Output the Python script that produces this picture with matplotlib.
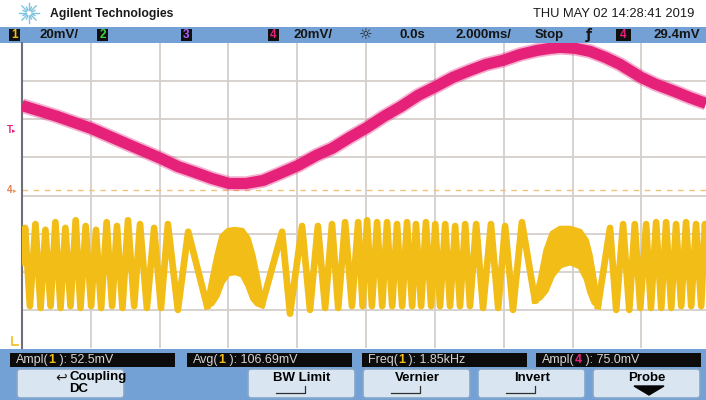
import numpy as np
import matplotlib.pyplot as plt
from matplotlib.patches import Rectangle, FancyBboxPatch, Polygon

plt.rcParams['font.family'] = ['Liberation Sans', 'DejaVu Sans']

### datos (tiempo en ms, tension en mV)
# canal 4 (rosa)
ch4_t = [-10.00, -8.98, -7.99, -6.98, -5.96, -5.47, -4.97, -4.48, -3.98, -3.49, -2.99,
         -2.50, -1.98, -1.45, -0.99, -0.47, 0.03, 0.52, 1.02, 1.51, 2.03, 2.53, 3.02,
         3.49, 3.98, 4.48, 4.97, 5.35, 5.64, 6.08, 6.51, 6.95, 7.38, 7.99, 8.40, 8.98,
         9.42, 9.88]
ch4_mv = [47.2, 41.5, 35.2, 27.3, 19.4, 15.2, 12.1, 8.9, 6.3, 6.3, 7.9,
          11.6, 15.7, 21.0, 24.7, 30.5, 35.7, 41.5, 46.7, 52.5, 57.2, 62.0, 65.6,
          68.8, 70.9, 74.0, 76.1, 77.2, 77.7, 77.2, 75.6, 72.5, 68.8, 62.0, 58.5, 54.5,
          51.3, 48.3]

# canal 1 (amarillo), picos y valles; nan separa los tramos
ch1_t = [-10.00, -9.91, -9.77, -9.61, -9.46, -9.32, -9.17, -9.03, -8.88, -8.74, -8.59,
         -8.44, -8.30, -8.15, -7.99, -7.85, -7.70, -7.54, -7.38, -7.24, -7.08, -6.92,
         -6.74, -6.57, -6.37, -6.16, -5.96, -5.76, -5.47, -5.17, -4.62, np.nan,
         -3.02, -2.44, -2.21, -1.86, -1.63, -1.40, -1.19, -0.99, -0.81, -0.61, -0.41,
         -0.23, -0.10, 0.03, 0.17, 0.32, 0.47, 0.61, 0.76, 0.90, 1.05, 1.19, 1.34,
         1.45, 1.60, 1.74, 1.89, 2.01, 2.15, 2.30, 2.44, 2.59, 2.73, 2.88, 3.02,
         3.20, 3.40, 3.63, 3.84, 4.04, 4.27, 4.53, 4.91, np.nan,
         6.74, 7.09, 7.27, 7.47, 7.65, 7.81, 7.97, 8.14, 8.28, 8.43, 8.58, 8.72,
         8.87, 9.01, 9.16, 9.30, 9.45, 9.59, 9.74, 9.85, 9.95]
ch1_mv = [-35, -17, -58, -15, -59, -18, -58, -14, -59, -17, -58,
          -13, -59, -16, -58, -18, -59, -14, -58, -16, -59, -13,
          -58, -15, -59, -17, -59, -15, -60, -19, -58, np.nan,
          -57, -19, -62, -16, -60, -16, -59, -15, -59, -14, -58,
          -14, -58, -13, -58, -14, -58, -14, -58, -15, -58, -14, -58,
          -15, -58, -14, -58, -15, -58, -15, -58, -16, -58, -15, -58,
          -15, -59, -15, -59, -16, -60, -14, -55, np.nan,
          -58, -17, -60, -15, -60, -15, -59, -15, -59, -14, -59, -14,
          -59, -15, -58, -14, -58, -15, -58, -15, -40]

# zonas anchas (borde superior e inferior)
blob1_t = [-4.62, -4.48, -4.33, -4.19, -4.01, -3.81, -3.60, -3.43, -3.29, -3.17, -3.02]
blob1_top = [-57.8, -44.6, -31.5, -21.5, -18.4, -17.9, -18.4, -22.6, -31.5, -42.0, -56.7]
blob1_bot = [-57.8, -56.7, -52.5, -45.7, -41.0, -40.4, -41.5, -47.3, -54.1, -56.7, -57.8]
blob2_t = [4.91, 5.06, 5.23, 5.41, 5.64, 5.93, 6.22, 6.40, 6.51, 6.63, 6.74]
blob2_top = [-55.1, -44.6, -28.9, -19.9, -17.3, -17.3, -18.9, -23.6, -31.5, -44.6, -57.8]
blob2_bot = [-55.1, -53.6, -49.9, -42.0, -36.8, -35.2, -37.3, -43.6, -50.9, -56.2, -57.8]

trig_level = 3.0  # linea discontinua

# textos
header_left = "Agilent Technologies"
header_right = "THU MAY 02 14:28:41 2019"
meas_pre = ["Ampl(", "Avg(", "Freq(", "Ampl("]
meas_ch = ["1", "1", "1", "4"]
meas_post = [" ): 52.5mV", " ): 106.69mV", " ): 1.85kHz", " ): 75.0mV"]
buttons = ["Coupling\nDC", "BW Limit", "Vernier", "Invert", "Probe"]

YEL = '#f1bd16'
PINK = '#e5217a'
BLUE = '#74a1d5'
LGRAY = '#d2d2d2'

fig = plt.figure(figsize=(7.06, 4.0), dpi=100)
bg = fig.add_axes([0, 0, 1, 1])
bg.set_xlim(0, 706)
bg.set_ylim(400, 0)
bg.axis('off')

### cabecera
ang = np.linspace(0, 2 * np.pi, 16, endpoint=False)
for i, a in enumerate(ang):
    r1, r2 = (3, 10) if i % 2 == 0 else (3, 6.5)
    bg.plot([29 + r1 * np.cos(a), 29 + r2 * np.cos(a)],
            [13 + r1 * np.sin(a), 13 + r2 * np.sin(a)], color='#7cc3e0', lw=1.0)
bg.text(50, 14, header_left, fontsize=8.8, fontweight='bold', va='center', color='#1a1a1a')
bg.text(694, 14, header_right, fontsize=9.3, va='center', ha='right', color='#1a1a1a')

# barra superior
bg.add_patch(Rectangle((0, 27), 706, 16, color=BLUE, lw=0))
for x, lab, c in [(9, "1", YEL), (97, "2", '#3fd13f'), (181, "3", '#b060ff'),
                  (268, "4", PINK), (616, "4", PINK)]:
    bg.add_patch(Rectangle((x, 29), 11 if x < 600 else 15, 12, color='#101010', lw=0))
    bg.text(x + (5.5 if x < 600 else 7.5), 35.5, lab, color=c, fontsize=8.5,
            fontweight='bold', ha='center', va='center')
bar_font = dict(fontsize=9.5, fontweight='bold', va='center', color='#151515')
bg.text(40, 35, "20mV/", **bar_font)
bg.text(294, 35, "20mV/", **bar_font)
bg.text(366, 35, "☼", fontsize=11, ha='center', va='center', color='#202020',
        family=['DejaVu Sans'])
bg.text(400, 35, "0.0s", **bar_font)
bg.text(455, 35, "2.000ms/", **bar_font)
bg.text(535, 35, "Stop", **bar_font)
bg.text(589, 35, "ƒ", fontsize=10, fontweight='bold', ha='center', va='center',
        color='#151515', family=['DejaVu Sans'])
bg.text(653, 35, "29.4mV", **bar_font)

### zona inferior
bg.add_patch(Rectangle((0, 349), 706, 51, color=BLUE, lw=0))
box_x = [10, 187, 362, 536]
for i, x in enumerate(box_x):
    bg.add_patch(Rectangle((x, 353), 165, 13.5, color='#0c0c0c', lw=0))
    t1 = bg.text(x + 6, 366, meas_pre[i], color=LGRAY, fontsize=9, va='bottom')
    chc = YEL if meas_ch[i] == "1" else PINK
    t2 = bg.annotate(meas_ch[i], xy=(1, 0), xycoords=t1, color=chc, fontsize=9,
                     va='bottom', fontweight='bold')
    bg.annotate(meas_post[i], xy=(1, 0), xycoords=t2, color=LGRAY, fontsize=9, va='bottom')

btn_x = [17, 248, 363, 478, 593]
for x, lab in zip(btn_x, buttons):
    bg.add_patch(FancyBboxPatch((x, 369), 107, 29, boxstyle='round,pad=0,rounding_size=3',
                                fc='#d9e6f2', ec='#86a6c8', lw=1.2))
    if lab.startswith("Coupling"):
        bg.text(x + 50, 377, "↩", fontsize=10, ha='right', va='center',
                family=['DejaVu Sans'], color='#151515')
        bg.text(x + 52, 377, "Coupling", fontsize=9.5, fontweight='bold', va='center')
        bg.text(x + 62, 389, "DC", fontsize=9.5, fontweight='bold', va='center', ha='center')
    else:
        bg.text(x + 54, 378, lab, fontsize=9.5, fontweight='bold', va='center', ha='center')
    if lab in ("BW Limit", "Vernier", "Invert"):
        bg.plot([x + 28, x + 57, x + 57], [393, 393, 386], color='#303030', lw=0.9)
bg.add_patch(Polygon([(634, 386), (664, 386), (649, 395)], closed=True, color='#050505'))

### marcadores a la izquierda
bg.text(10, 130, "T", color=PINK, fontsize=7, ha='center', va='center', fontweight='bold')
bg.text(14, 131, "▸", color=PINK, fontsize=5, ha='center', va='center', family=['DejaVu Sans'])
bg.text(10, 190, "4", color='#e87a50', fontsize=7, ha='center', va='center', fontweight='bold')
bg.text(15, 191, "▸", color='#e8a050', fontsize=5, ha='center', va='center', family=['DejaVu Sans'])
bg.plot([12, 12, 18], [337, 345, 345], color=YEL, lw=1.2)

### pantalla
ax = fig.add_axes([22 / 706, 52 / 400, 684 / 706, 305 / 400])
ax.set_xlim(-10, 9.88)
ax.set_ylim(-80, 80)
for t in np.arange(-8, 10, 2):
    ax.axvline(t, color='#d4cfca', lw=1.3, zorder=1)
for v in np.arange(-60, 80, 20):
    ax.axhline(v, color='#d4cfca', lw=1.3, zorder=1)
ax.axhline(trig_level, color='#f0c27a', lw=1.0, dashes=(4, 4), zorder=2)

ax.plot(ch4_t, ch4_mv, color=PINK, lw=10.5, alpha=0.35, solid_capstyle='butt',
        solid_joinstyle='round', zorder=3)
ax.plot(ch4_t, ch4_mv, color=PINK, lw=8, solid_capstyle='butt',
        solid_joinstyle='round', zorder=4)

ax.plot(ch1_t, ch1_mv, color=YEL, lw=4.8, solid_joinstyle='round', zorder=4)
for bt, btop, bbot in [(blob1_t, blob1_top, blob1_bot), (blob2_t, blob2_top, blob2_bot)]:
    ax.fill_between(bt, bbot, btop, color=YEL, lw=0, zorder=4)
    ax.plot(bt, btop, color=YEL, lw=4, zorder=4)
    ax.plot(bt, bbot, color=YEL, lw=4, zorder=4)

ax.set_xticks([])
ax.set_yticks([])
for s in ['top', 'right', 'bottom']:
    ax.spines[s].set_visible(False)
ax.spines['left'].set_color('#6f6f7a')
ax.spines['left'].set_linewidth(1.5)

fig.savefig('out.png', dpi=100)
